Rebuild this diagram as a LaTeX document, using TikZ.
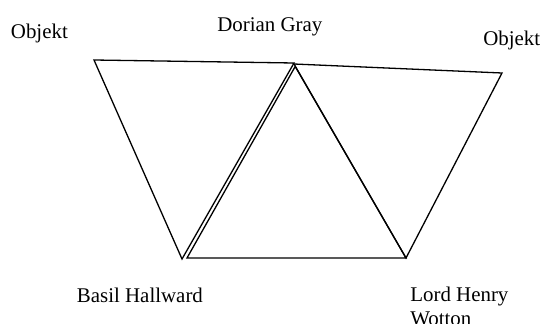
\documentclass[tikz,border=0pt]{standalone}
\usepackage{fontspec}
\setmainfont{Liberation Serif}
\usepackage{tikz}

\begin{document}
\begin{tikzpicture}[x=1pt,y=-1pt,line width=1.3pt,line join=miter,
    lbl/.style={anchor=base west,inner sep=0pt,font=\fontsize{20.9}{23.5}\selectfont}]
  \useasboundingbox (0,0) rectangle (544,324);
  % corners of the three triangles
  \coordinate (objL) at (94,60);
  \coordinate (dorianL) at (294,63);
  \coordinate (basilL) at (182,259);
  \coordinate (dorianM) at (295.2,66.5);
  \coordinate (basilM) at (187,258);
  \coordinate (henryM) at (406,258);
  \coordinate (dorianR) at (294,64);
  \coordinate (objR) at (502,73);
  \coordinate (henryR) at (406,258);
  \draw (objL)--(dorianL)--(basilL)--cycle;
  \draw (dorianM)--(basilM)--(henryM)--cycle;
  \draw (dorianR)--(objR)--(henryR)--cycle;
  % names
  \node[lbl] (objekt1) at (10.3,38.3){Objekt};
  \node[lbl] (dorian) at (216.7,31){Dorian Gray};
  \node[lbl] (objekt2) at (482.6,45.7){Objekt};
  \node[lbl] (basil) at (76.3,302.7){Basil Hallward};
  \node[lbl,align=left] (henry) at (409.7,325.2){Lord Henry\\Wotton};
\end{tikzpicture}
\end{document}
